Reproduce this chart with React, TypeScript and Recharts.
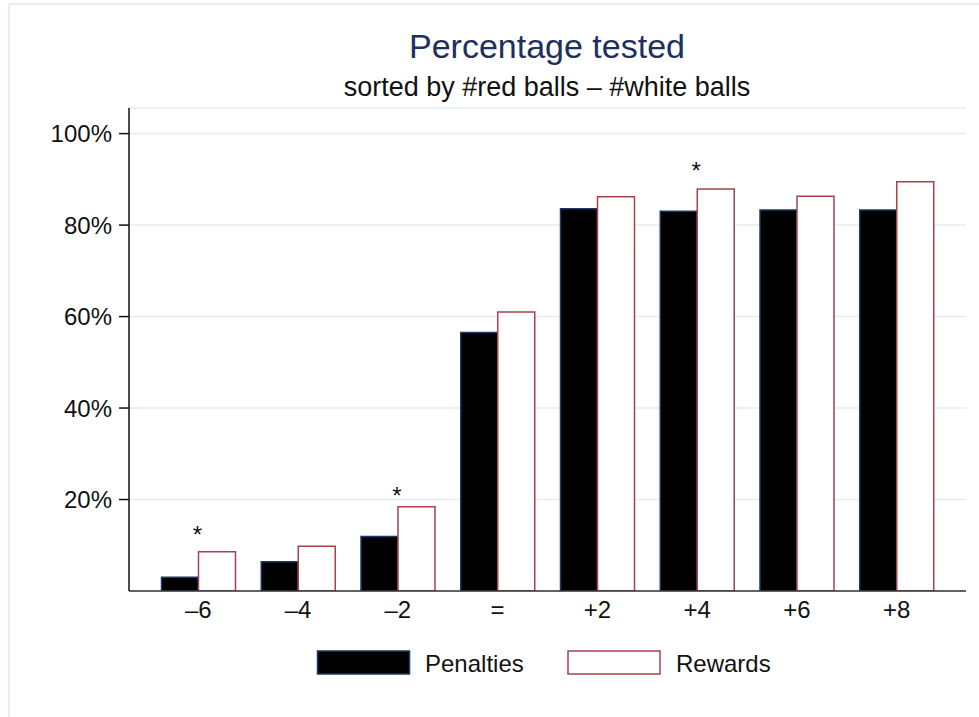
import { ComposedChart, Bar, Line, XAxis, YAxis, CartesianGrid } from "recharts";

const categories = ["–6", "–4", "–2", "=", "+2", "+4", "+6", "+8"];
const penalties = [3.0, 6.4, 11.9, 56.5, 83.6, 83.0, 83.3, 83.3];
const rewards = [8.6, 9.8, 18.4, 61.0, 86.2, 87.9, 86.3, 89.5];
// where the significance stars sit (percent scale)
const stars = [13.3, null, 21.9, null, null, 92.9, null, null];
const yTicks = [20, 40, 60, 80, 100];

const seriesNames = ["Penalties", "Rewards"];
const title = "Percentage tested";
const subtitle = "sorted by #red balls – #white balls";

const FONT = '"Liberation Sans", Arial, Helvetica, sans-serif';
const PEN_STROKE = "#1d3a66";
const REW_STROKE = "#a8424f";

const data = categories.map((cat, i) => ({
  cat,
  penalties: penalties[i],
  rewards: rewards[i],
  star: stars[i],
}));

const StarDot = (props: any) => {
  const { cx, cy, index, value } = props;
  if (value == null || cy == null) return <g key={index} />;
  return (
    <text
      key={index}
      x={cx - 1}
      y={cy + 13}
      textAnchor="middle"
      fontSize={24}
      fontFamily={FONT}
      fill="#111"
    >
      *
    </text>
  );
};

const App = () => {
  return (
    <div style={{ position: "relative", width: 979, height: 717, fontFamily: FONT }}>
      <style>{"body{margin:0;overflow:hidden}"}</style>
      <ComposedChart
        width={979}
        height={717}
        data={data}
        margin={{ top: 108, right: 13, bottom: 86, left: 0 }}
        barGap={0}
      >
        <CartesianGrid vertical={false} stroke="#e6edf0" strokeWidth={1.5} />
        <XAxis
          dataKey="cat"
          height={40}
          padding={{ left: 19.5, right: 19.5 }}
          axisLine={{ stroke: "#333", strokeWidth: 1.5 }}
          tickLine={false}
          tickSize={6}
          tickMargin={4}
          tick={{ fontSize: 24, fill: "#111", fontFamily: FONT }}
        />
        <YAxis
          width={129}
          domain={[0, 105.6]}
          ticks={yTicks}
          tickFormatter={(v: number) => `${v}%`}
          axisLine={{ stroke: "#111", strokeWidth: 1.5 }}
          tickLine={{ stroke: "#111", strokeWidth: 1.5 }}
          tickSize={10}
          tickMargin={7}
          tick={{ fontSize: 24, fill: "#111", fontFamily: FONT }}
          allowDataOverflow
        />
        <Bar
          dataKey="penalties"
          name={seriesNames[0]}
          fill="#000"
          stroke={PEN_STROKE}
          strokeWidth={1.5}
          barSize={37}
          isAnimationActive={false}
        />
        <Bar
          dataKey="rewards"
          name={seriesNames[1]}
          fill="#fff"
          stroke={REW_STROKE}
          strokeWidth={1.5}
          barSize={37}
          isAnimationActive={false}
        />
        <Line
          dataKey="star"
          stroke="none"
          dot={StarDot}
          activeDot={false}
          legendType="none"
          isAnimationActive={false}
        />
      </ComposedChart>

      {/* frame, titles and legend */}
      <svg
        width={979}
        height={717}
        style={{ position: "absolute", left: 0, top: 0, pointerEvents: "none" }}
      >
        <line x1={9} y1={4} x2={979} y2={4} stroke="#e6edf0" strokeWidth={2} />
        <line x1={9} y1={4} x2={9} y2={717} stroke="#e6edf0" strokeWidth={2} />
        <text x={547} y={58} textAnchor="middle" fontSize={34} fill="#1e2f5e" fontFamily={FONT}>
          {title}
        </text>
        <text x={547} y={96} textAnchor="middle" fontSize={27} fill="#111" fontFamily={FONT}>
          {subtitle}
        </text>
        <rect x={317.5} y={651} width={92} height={23} fill="#000" stroke={PEN_STROKE} strokeWidth={1.5} />
        <text x={425} y={672} fontSize={24} fill="#111" fontFamily={FONT}>
          {seriesNames[0]}
        </text>
        <rect x={568} y={651} width={92} height={23} fill="#fff" stroke={REW_STROKE} strokeWidth={1.5} />
        <text x={676} y={672} fontSize={24} fill="#111" fontFamily={FONT}>
          {seriesNames[1]}
        </text>
      </svg>
    </div>
  );
};

export default App;
